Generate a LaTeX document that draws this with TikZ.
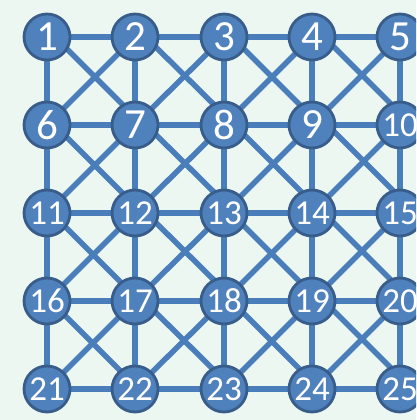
\documentclass[tikz,border=0pt]{standalone}
\usepackage{fontspec}
\setmainfont{Carlito}
\usetikzlibrary{calc}
\definecolor{bgcol}{HTML}{EDF7F2}
\definecolor{nodefill}{HTML}{4F81BD}
\definecolor{nodeborder}{HTML}{385D8A}
\definecolor{edgecol}{HTML}{4A7EBB}
\pgfdeclarelayer{back}
\pgfdeclarelayer{edges}
\pgfsetlayers{back,edges,main}
\begin{document}
\begin{tikzpicture}[x=1pt,y=-1pt,
  vtx/.style={circle, fill=nodefill, draw=nodeborder, line width=2.8pt,
    minimum size=46pt, inner sep=0pt, text=white,
    font=\fontsize{43}{43}\selectfont},
  vtxs/.style={vtx, font=\fontsize{35}{35}\selectfont},
  edge/.style={draw=edgecol, line width=5.5pt}]
\useasboundingbox (0,0) rectangle (416,420);
\clip (0,0) rectangle (416,420);
\begin{pgfonlayer}{back}
  \fill[bgcol] (0,0) rectangle (416,420);
\end{pgfonlayer}
% nodes
\foreach \r [count=\ri from 0] in {37,125,213,301,389} {
  \foreach \c [count=\ci from 1] in {47,135,224,312,400} {
    \pgfmathtruncatemacro{\n}{\ri*5+\ci}
    \ifnum\n<10
      \node[vtx] (n\n) at (\c,\r) {\n};
    \else
      \node[vtxs] (n\n) at (\c,\r) {\n};
    \fi
  }
}
\begin{pgfonlayer}{edges}
  % horizontal
  \foreach \a in {1,2,3,4,6,7,8,9,11,12,13,14,16,17,18,19,21,22,23,24} {
    \pgfmathtruncatemacro{\b}{\a+1}
    \draw[edge] (n\a.center) -- (n\b.center);
  }
  % vertical
  \foreach \a in {1,...,20} {
    \pgfmathtruncatemacro{\b}{\a+5}
    \draw[edge] (n\a.center) -- (n\b.center);
  }
  % "/" diagonals
  \foreach \a in {2,3,4,5,7,8,9,10,12,13,14,15,17,18,19,20} {
    \pgfmathtruncatemacro{\b}{\a+4}
    \draw[edge] (n\a.center) -- (n\b.center);
  }
  % "\" diagonals (slightly raised)
  \foreach \a/\d in {1/-8,2/-10.5,3/-8,4/-12,6/-7.5,7/-11,8/-10.5,9/-15.5,
                     11/-4.5,12/-11,13/-7,14/-12,16/-3.5,17/-9,18/-7.5,19/-12} {
    \pgfmathtruncatemacro{\b}{\a+6}
    \draw[edge] ($(n\a.center)+(0,\d)$) -- ($(n\b.center)+(0,\d)$);
  }
\end{pgfonlayer}
\end{tikzpicture}
\end{document}
